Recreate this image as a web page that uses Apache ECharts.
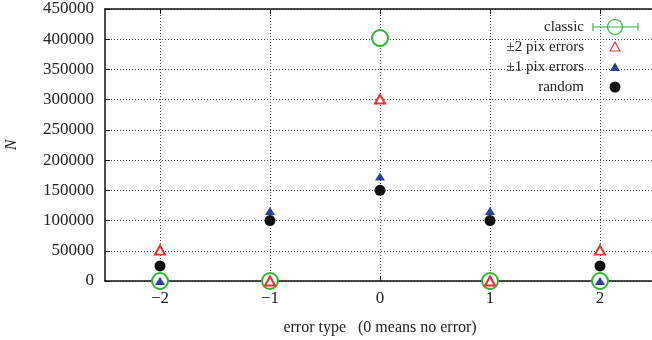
<!DOCTYPE html>
<html><head><meta charset="utf-8">
<script src="https://cdn.jsdelivr.net/npm/echarts@6/dist/echarts.min.js"></script>
<style>html,body{margin:0;padding:0;background:#fff}#c{width:652px;height:340px}</style>
</head><body><div id="c"></div>
<script>
const categories = [-2, -1, 0, 1, 2];
const classic = [0, 0, 402000, 0, 0];
const classicErr = [0, 0, 700, 0, 0];
const pix2 = [51000, 0, 301000, 0, 51000];
const pix1 = [0, 116000, 173000, 116000, 0];
const random = [25000, 100000, 150000, 100000, 25000];
const seriesNames = ['classic', '\u00b12 pix errors', '\u00b11 pix errors', 'random'];
const xTicks = [-2, -1, 0, 1, 2];
const yMax = 450000, yStep = 50000;

const FONT = 'Liberation Serif';
const green = '#2fb52f', red = '#e8322e', blue = '#2b3f9c', black = '#111';
const gridLine = {show: true, lineStyle: {color: '#444', width: 1, type: [1, 2]}};

function pairs(vals) { return categories.map((c, i) => [c, vals[i]]); }

const chart = echarts.init(document.getElementById('c'));
const legendX = 584, iconX = 615, legendY = [27, 47, 67, 87];
chart.setOption({
  animation: false,
  grid: {left: 105, top: 9, width: 550, height: 272, show: false, containLabel: false, outerBoundsMode: 'none'},
  xAxis: [{
    type: 'value', min: -2.5, max: 2.5, position: 'bottom',
    name: 'error type   (0 means no error)', nameLocation: 'middle', nameGap: 39,
    nameTextStyle: {fontFamily: FONT, fontSize: 16, color: '#222'},
    axisLine: {show: true, onZero: false, lineStyle: {color: '#111', width: 1.5}},
    axisTick: {show: true, inside: true, length: 5, customValues: xTicks, lineStyle: {color: '#111'}},
    axisLabel: {customValues: xTicks, margin: 9, fontFamily: FONT, fontSize: 17, color: '#222',
      formatter: v => String(v).replace('-', '\u2212')},
    splitLine: gridLine
  }, {
    type: 'value', min: -2.5, max: 2.5, position: 'top',
    axisLine: {show: true, onZero: false, lineStyle: {color: '#111', width: 1.5}},
    axisTick: {show: true, inside: true, length: 5, customValues: xTicks, lineStyle: {color: '#111'}},
    axisLabel: {show: false}, splitLine: {show: false}
  }],
  yAxis: [{
    type: 'value', min: 0, max: yMax, interval: yStep,
    name: 'N', nameLocation: 'middle', nameGap: 85, nameRotate: 90,
    nameTextStyle: {fontFamily: FONT, fontSize: 16, fontStyle: 'italic', color: '#222'},
    axisLine: {show: true, onZero: false, lineStyle: {color: '#111', width: 1.5}},
    axisTick: {show: true, inside: true, length: 5, lineStyle: {color: '#111'}},
    axisLabel: {margin: 11, fontFamily: FONT, fontSize: 17, color: '#222', formatter: v => String(v)},
    splitLine: gridLine
  }],
  series: [
    {name: seriesNames[0], type: 'custom', xAxisIndex: 0, yAxisIndex: 0, z: 3,
     data: categories.map((c, i) => [c, classic[i], classicErr[i]]),
     renderItem: function (params, api) {
       const x = api.value(0), y = api.value(1), e = api.value(2);
       const p1 = api.coord([x, y - e]), p2 = api.coord([x, y + e]);
       const st = {stroke: green, lineWidth: 1.1};
       return {type: 'group', children: [
         {type: 'line', shape: {x1: p1[0], y1: p1[1], x2: p2[0], y2: p2[1]}, style: st},
         {type: 'line', shape: {x1: p1[0] - 4, y1: p1[1], x2: p1[0] + 4, y2: p1[1]}, style: st},
         {type: 'line', shape: {x1: p2[0] - 4, y1: p2[1], x2: p2[0] + 4, y2: p2[1]}, style: st}
       ]};
     }},
    {name: seriesNames[0], type: 'scatter', data: pairs(classic), symbol: 'emptyCircle', symbolSize: 16, z: 3,
     itemStyle: {color: green, borderColor: green, borderWidth: 1.1, opacity: 1}},
    {name: seriesNames[1], type: 'scatter', data: pairs(pix2), symbol: 'emptyTriangle', symbolSize: [10, 9], z: 4,
     itemStyle: {color: red, borderColor: red, borderWidth: 1.1, opacity: 1}},
    {name: seriesNames[2], type: 'scatter', data: pairs(pix1), symbol: 'triangle', symbolSize: [10, 8], z: 5,
     itemStyle: {color: blue, opacity: 1}},
    {name: seriesNames[3], type: 'scatter', data: pairs(random), symbol: 'circle', symbolSize: 11, z: 6,
     itemStyle: {color: black, opacity: 1}}
  ],
  graphic: [
    ...seriesNames.map((n, i) => ({type: 'text', x: legendX, y: legendY[i],
      style: {text: n, fontFamily: FONT, fontSize: 15, fill: '#222', align: 'right', verticalAlign: 'middle'}})),
    {type: 'line', shape: {x1: 593, y1: legendY[0], x2: 638, y2: legendY[0]}, style: {stroke: green, lineWidth: 1.1}},
    {type: 'line', shape: {x1: 593, y1: legendY[0] - 4, x2: 593, y2: legendY[0] + 4}, style: {stroke: green, lineWidth: 1.1}},
    {type: 'line', shape: {x1: 638, y1: legendY[0] - 4, x2: 638, y2: legendY[0] + 4}, style: {stroke: green, lineWidth: 1.1}},
    {type: 'circle', shape: {cx: iconX, cy: legendY[0], r: 7.5}, style: {fill: 'none', stroke: green, lineWidth: 1.1}},
    {type: 'polygon', shape: {points: [[iconX, legendY[1] - 5], [iconX - 5, legendY[1] + 4], [iconX + 5, legendY[1] + 4]]},
     style: {fill: 'none', stroke: red, lineWidth: 1.1}},
    {type: 'polygon', shape: {points: [[iconX, legendY[2] - 4.5], [iconX - 5, legendY[2] + 4], [iconX + 5, legendY[2] + 4]]},
     style: {fill: blue}},
    {type: 'circle', shape: {cx: iconX, cy: legendY[3], r: 5.5}, style: {fill: black}}
  ]
});
</script></body></html>
